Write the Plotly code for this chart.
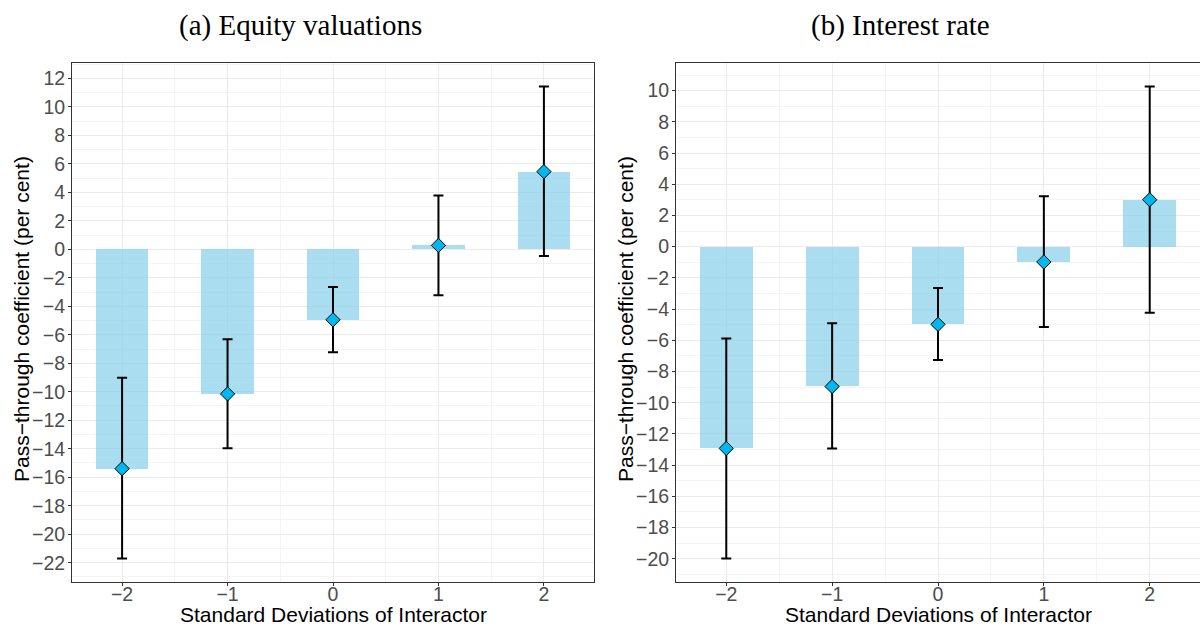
import plotly.graph_objects as go

# Standard-deviation levels of the interacting variable
sd_levels = [-2, -1, 0, 1, 2]

# (a) Equity valuations: point estimates and confidence bounds
equity_coef = [-15.4, -10.15, -4.95, 0.27, 5.45]
equity_lower = [-21.7, -13.96, -7.23, -3.23, -0.47]
equity_upper = [-9.02, -6.32, -2.64, 3.77, 11.42]

# (b) Interest rate: point estimates and confidence bounds
rate_coef = [-12.93, -8.96, -4.98, -0.98, 3.01]
rate_lower = [-19.98, -12.93, -7.27, -5.15, -4.23]
rate_upper = [-5.88, -4.91, -2.65, 3.23, 10.26]

panel_titles = ["(a) Equity valuations", "(b) Interest rate"]
x_title = "Standard Deviations of Interactor"
y_title = "Pass\u2212through coefficient (per cent)"

W, H = 1200, 628
BAR_COLOR = "rgba(135,206,235,0.7)"
POINT_COLOR = "#00B7F0"
GRID = "#EBEBEB"
MINOR_GRID = "#F4F4F4"
BORDER = "#333333"
SANS = "Liberation Sans, Arial, sans-serif"
TICK_FONT = dict(family=SANS, size=19.5, color="#4D4D4D")
AXIS_TITLE_FONT = dict(family=SANS, size=21, color="#000000")
PANEL_TITLE_FONT = dict(family="Liberation Serif, Times New Roman, serif", size=29, color="#000000")

fig = go.Figure()


def padded_range(lo, hi, frac=0.05):
    span = hi - lo
    return [lo - frac * span, hi + frac * span]


panels = [
    (equity_coef, equity_lower, equity_upper, "x", "y"),
    (rate_coef, rate_lower, rate_upper, "x2", "y2"),
]

y_ranges = []
for coef, lower, upper, xa, ya in panels:
    fig.add_trace(go.Bar(
        x=sd_levels, y=coef, width=0.5, marker=dict(color=BAR_COLOR, line=dict(width=0)),
        xaxis=xa, yaxis=ya, showlegend=False, hoverinfo="skip",
    ))
    fig.add_trace(go.Scatter(
        x=sd_levels, y=coef, mode="markers", xaxis=xa, yaxis=ya, showlegend=False,
        marker=dict(symbol="diamond", size=11, color=POINT_COLOR, line=dict(color="black", width=1)),
        error_y=dict(
            type="data", symmetric=False,
            array=[u - c for u, c in zip(upper, coef)],
            arrayminus=[c - l for c, l in zip(coef, lower)],
            color="black", thickness=2, width=5,
        ),
    ))
    lo = min(min(lower), min(coef), 0)
    hi = max(max(upper), max(coef), 0)
    y_ranges.append(padded_range(lo, hi))

x_range = padded_range(-2.25, 2.25)

# panel geometry in pixels
panel_px = [(72, 594), (676, 1200)]
top_px, bottom_px = 63, 582
domains = [[a / W, b / W] for a, b in panel_px]
y_domain = [1 - bottom_px / H, 1 - top_px / H]


def x_axis(dom, anchor):
    return dict(
        domain=dom, anchor=anchor, range=x_range, tickvals=sd_levels,
        showgrid=True, gridcolor=GRID, gridwidth=1,
        minor=dict(dtick=0.5, tick0=-2.5, showgrid=True, gridcolor=MINOR_GRID, gridwidth=1, ticks=""),
        zeroline=False, showline=True, linecolor=BORDER, linewidth=1, mirror=True,
        ticks="outside", ticklen=3, tickcolor=BORDER, tickfont=TICK_FONT,
        ticklabelstandoff=-8,
    )


def y_axis(rng, anchor):
    return dict(
        domain=y_domain, anchor=anchor, range=rng, dtick=2, tick0=0,
        showgrid=True, gridcolor=GRID, gridwidth=1,
        minor=dict(dtick=1, tick0=1, showgrid=True, gridcolor=MINOR_GRID, gridwidth=1, ticks=""),
        zeroline=False, showline=True, linecolor=BORDER, linewidth=1, mirror=True,
        ticks="outside", ticklen=3, tickcolor=BORDER, tickfont=TICK_FONT,
        ticklabelstandoff=-1,
    )


fig.update_layout(
    width=W, height=H,
    margin=dict(l=0, r=0, t=0, b=0),
    paper_bgcolor="white", plot_bgcolor="white",
    bargap=0,
    xaxis=x_axis(domains[0], "y"),
    yaxis=y_axis(y_ranges[0], "x"),
    xaxis2=x_axis(domains[1], "y2"),
    yaxis2=y_axis(y_ranges[1], "x2"),
)

for i, ((a, b), text) in enumerate(zip(panel_px, panel_titles)):
    # panel heading, centred over its half of the figure
    fig.add_annotation(
        text=text, xref="paper", yref="paper",
        x=(i * W / 2 + W / 4) / W, y=1 - 25 / H, xanchor="center", yanchor="middle",
        showarrow=False, font=PANEL_TITLE_FONT,
    )
    # x-axis title
    fig.add_annotation(
        text=x_title, xref="paper", yref="paper",
        x=(a + b) / 2 / W, y=1 - 614 / H, xanchor="center", yanchor="middle",
        showarrow=False, font=AXIS_TITLE_FONT,
    )
    # y-axis title
    fig.add_annotation(
        text=y_title, xref="paper", yref="paper", textangle=-90,
        x=(a - 51) / W, y=1 - 319 / H, xanchor="center", yanchor="middle",
        showarrow=False, font=AXIS_TITLE_FONT,
    )

fig.write_html("out.html")
